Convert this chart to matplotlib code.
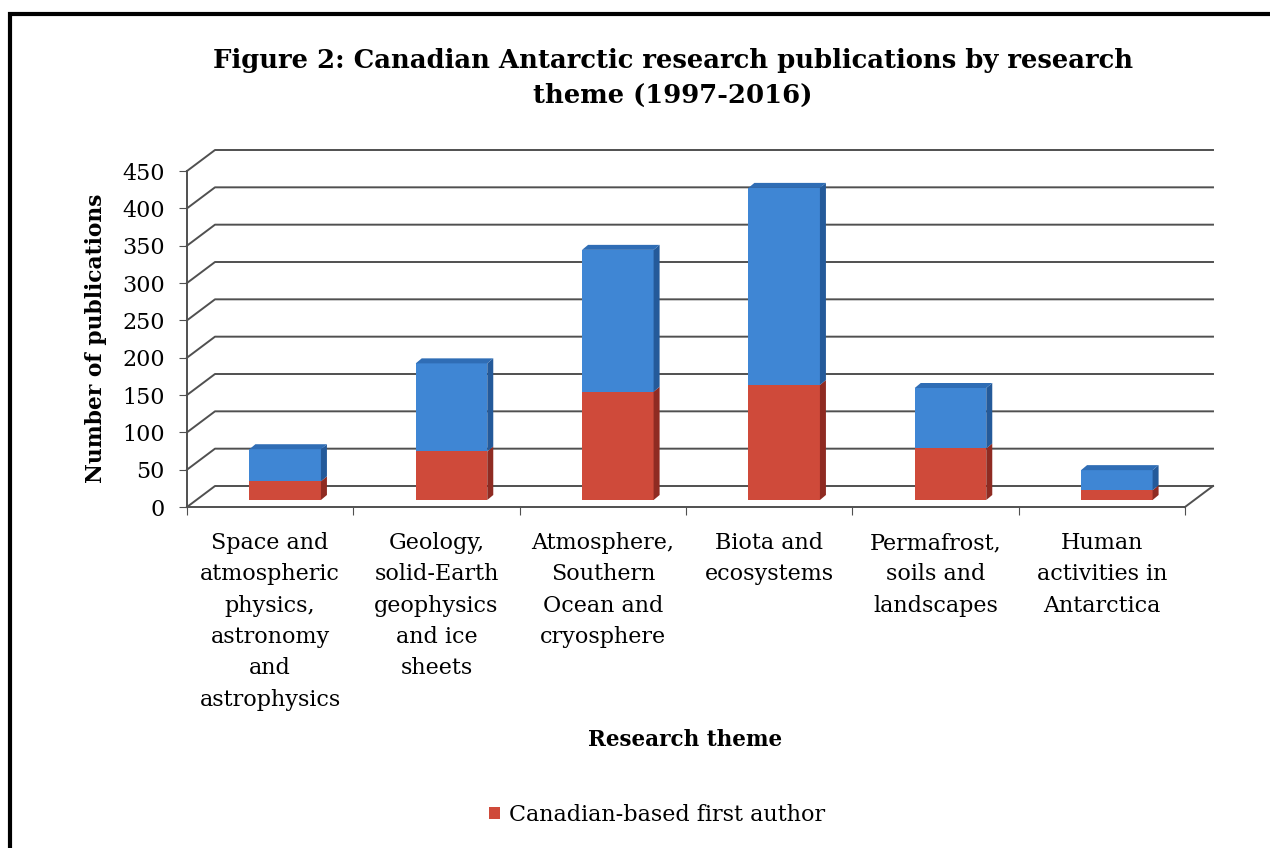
import numpy as np
import matplotlib.pyplot as plt
from matplotlib.patches import Polygon, Rectangle

# Datos
temas = ["Space and\natmospheric\nphysics,\nastronomy\nand\nastrophysics",
         "Geology,\nsolid-Earth\ngeophysics\nand ice\nsheets",
         "Atmosphere,\nSouthern\nOcean and\ncryosphere",
         "Biota and\necosystems",
         "Permafrost,\nsoils and\nlandscapes",
         "Human\nactivities in\nAntarctica"]
primer_autor_canadiense = np.array([25, 65, 145, 154, 69, 13])
total = np.array([68, 183, 335, 418, 150, 40])
otros = total - primer_autor_canadiense
y_ticks = np.arange(0, 451, 50)

plt.rcParams['font.family'] = ['DejaVu Serif']

W, H = 1270, 848
fig = plt.figure(figsize=(W / 100, H / 100), dpi=100)

# ejes en pixeles: plano frontal 0..450 -> y 507..171, categorias x 187..1185
ax_left, ax_right, ax_bot, ax_top = 187, 1230, 507, 135
sx = (1185 - ax_left) / 6.0   # px por categoria
sy = (507 - 171) / 450.0       # px por unidad
ax = fig.add_axes([ax_left / W, (H - ax_bot) / H, (ax_right - ax_left) / W, (ax_bot - ax_top) / H])
ax.set_xlim(-0.5, -0.5 + (ax_right - ax_left) / sx)
ax.set_ylim(0, (ax_bot - ax_top) / sy)
ax.patch.set_alpha(0)

dxw = 28 / sx   # profundidad de la pared
dyw = 21 / sy
ddx = 6 / sx    # profundidad de la barra
ddy = 5 / sy

col_grid = '#505050'
# pared del fondo y lineas de la pared lateral
for v in y_ticks:
    ax.plot([-0.5, -0.5 + dxw, 5.5 + dxw], [v, v + dyw, v + dyw], color=col_grid, lw=1.4, zorder=1,
            clip_on=False)
ax.plot([5.5, 5.5 + dxw], [0, dyw], color=col_grid, lw=1.4, zorder=1, clip_on=False)

# barras (a media profundidad)
x = np.arange(len(temas)) + 15 / sx
b0 = 7 / sy
ancho = 0.43
rojo, rojo_osc = '#CF4A3A', '#8F2B22'
azul, azul_osc = '#3F86D4', '#245A9A'
barras_rojas = ax.bar(x, primer_autor_canadiense, ancho, bottom=b0, color=rojo, zorder=3,
                      label='Canadian-based first author')
ax.bar(x, otros, ancho, bottom=b0 + primer_autor_canadiense, color=azul, zorder=3)

for xi, r, t in zip(x, primer_autor_canadiense, total):
    xr = xi + ancho / 2
    xl = xi - ancho / 2
    for y0, y1, c in [(b0, b0 + r, rojo_osc), (b0 + r, b0 + t, azul_osc)]:
        ax.add_patch(Polygon([(xr, y0), (xr + ddx, y0 + ddy), (xr + ddx, y1 + ddy), (xr, y1)],
                             closed=True, color=c, zorder=3, lw=0))
    yt = b0 + t
    ax.add_patch(Polygon([(xl, yt), (xl + ddx, yt + ddy), (xr + ddx, yt + ddy), (xr, yt)],
                         closed=True, color='#2F6DB5', zorder=3, lw=0))

# ejes
for s in ['top', 'right']:
    ax.spines[s].set_visible(False)
ax.spines['left'].set_bounds(0, 450)
ax.spines['bottom'].set_bounds(-0.5, 5.5)
ax.spines['left'].set_color(col_grid)
ax.spines['bottom'].set_color(col_grid)
ax.spines['left'].set_linewidth(1.4)
ax.spines['bottom'].set_linewidth(1.4)

ax.set_yticks(y_ticks)
ax.tick_params(axis='y', labelsize=16, length=6, color=col_grid, pad=10)
ax.set_xticks(np.arange(-0.5, 6, 1))
ax.set_xticklabels([])
ax.tick_params(axis='x', which='major', length=6, color=col_grid)
ax.set_xticks(np.arange(6), minor=True)
ax.set_xticklabels(temas, minor=True, fontsize=16, linespacing=1.55, va='top')
ax.tick_params(axis='x', which='minor', length=0, pad=18)

fig.text(96 / W, 1 - 338 / H, 'Number of publications', rotation=90, ha='center', va='center',
         fontsize=15.7, fontweight='bold')
fig.text(685 / W, 1 - 740 / H, 'Research theme', ha='center', va='center', fontsize=15.5,
         fontweight='bold')
fig.text(673 / W, 1 - 78 / H, 'Figure 2: Canadian Antarctic research publications by research\ntheme (1997-2016)',
         ha='center', va='center', fontsize=18.6, fontweight='bold', linespacing=1.5)

fig.legend(handles=[barras_rojas], labels=['Canadian-based first author'], loc='center',
           bbox_to_anchor=(657 / W, 1 - 815 / H), frameon=False, fontsize=16,
           handlelength=0.5, handleheight=0.5, handletextpad=0.4)

# marco
fig.add_artist(Rectangle((10 / W, -0.1), 1.2, (H - 14) / H + 0.1, transform=fig.transFigure,
                         fill=False, lw=3, ec='black'))

fig.savefig('out.png', dpi=100)
